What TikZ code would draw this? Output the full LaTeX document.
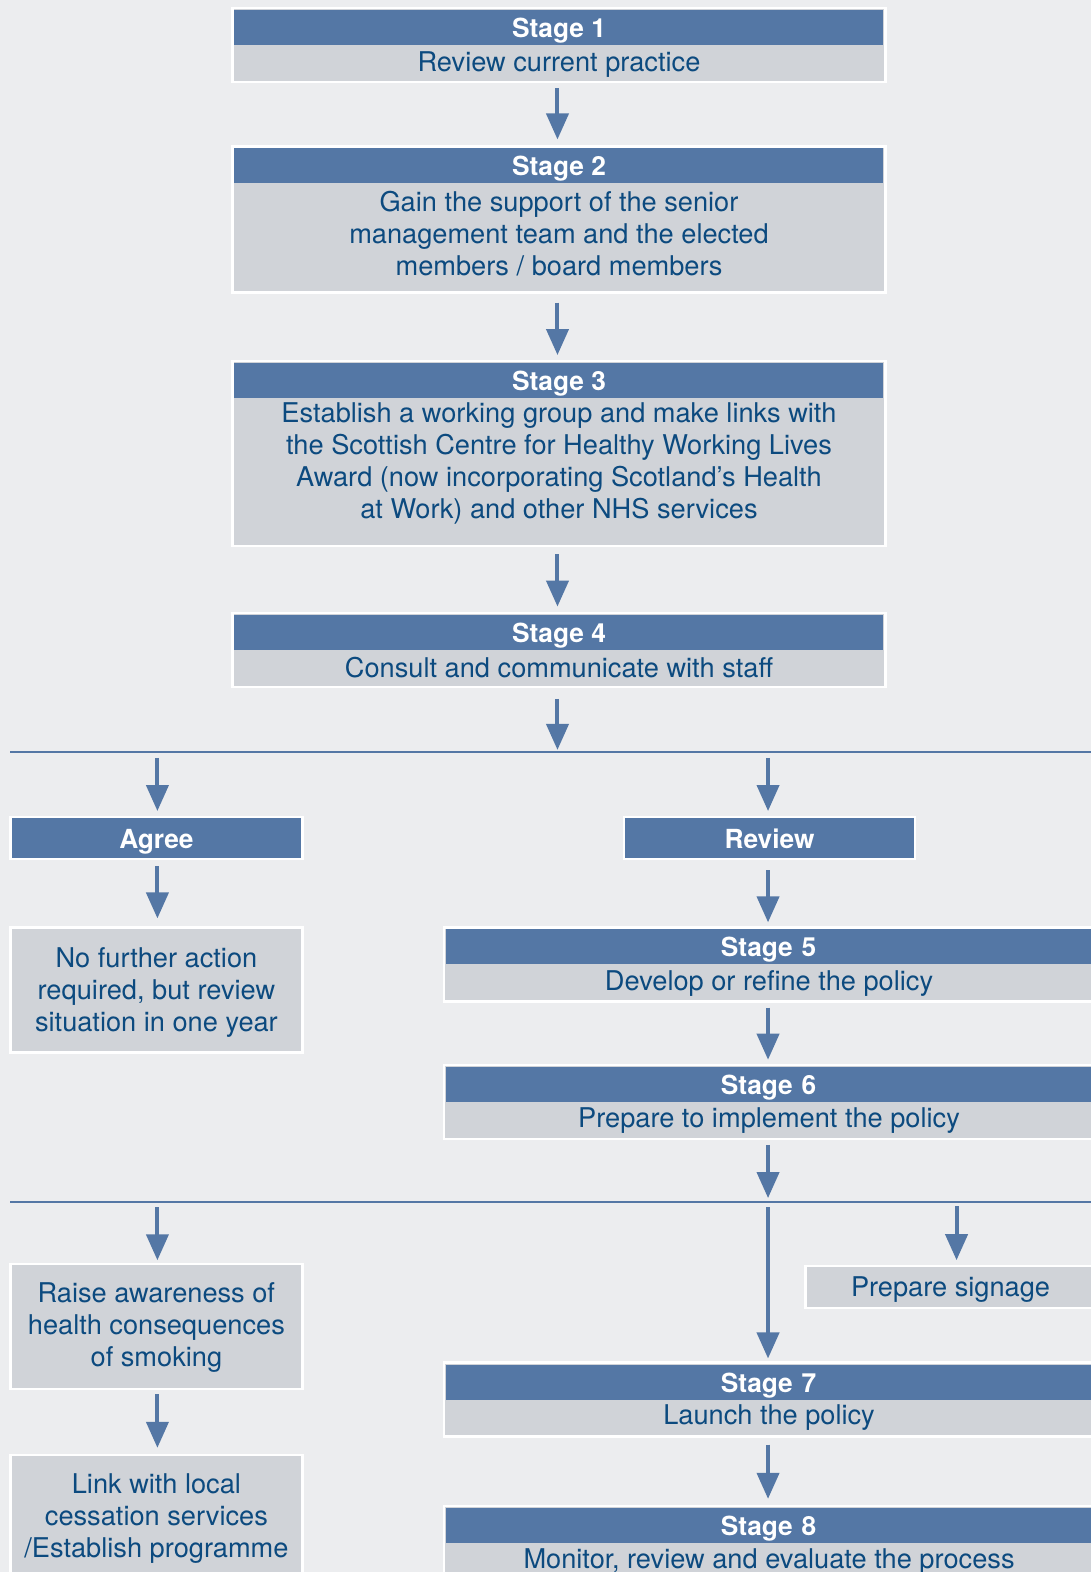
\documentclass[tikz,border=0pt]{standalone}
\usepackage{fontspec}
\setmainfont{TeX Gyre Heros}
\usetikzlibrary{arrows.meta}
\definecolor{bgc}{HTML}{ECEDEF}
\definecolor{hblue}{HTML}{5477A5}
\definecolor{bgray}{HTML}{D0D3D8}
\definecolor{tblue}{HTML}{0C4A7F}
\tikzset{
  outerbox/.style={fill=bgray,draw=white,line width=2.2pt,inner sep=0pt},
  hdr/.style={fill=hblue,inner sep=0pt,minimum height=35pt,text=white,
    font=\fontsize{26.3}{32}\selectfont\bfseries,text height=20pt,text depth=0pt},
  bluebox/.style={fill=hblue,draw=white,line width=2.2pt,inner sep=0pt,text=white,
    font=\fontsize{26.3}{32}\selectfont\bfseries,text height=20pt,text depth=0pt},
  txt/.style={text=tblue,align=center,inner sep=0pt,font=\fontsize{27.2}{32}\selectfont},
  arr/.style={draw=hblue,line width=4pt,-{Triangle[width=22pt,length=26pt]}},
  splitline/.style={draw=hblue,line width=2.5pt}
}
\begin{document}
\begin{tikzpicture}[x=1.0027pt,y=-1.0026pt]
\fill[bgc] (0,0) rectangle (1088,1568);
\useasboundingbox (0,0) rectangle (1088,1568);

% ---- main column
\node[outerbox,minimum width=653pt,minimum height=74pt] (s1) at (557.5,45) {};
\node[hdr,minimum width=649pt] (s1h) at (557.5,27.5) {Stage 1};
\node[txt] (s1t) at (557.5,64) {Review current practice};

\node[outerbox,minimum width=653pt,minimum height=146pt] (s2) at (557.5,219) {};
\node[hdr,minimum width=649pt] (s2h) at (557.5,165.5) {Stage 2};
\node[txt] (s2t) at (557.5,233.5) {Gain the support of the senior\\management team and the elected\\members / board members};

\node[outerbox,minimum width=653pt,minimum height=185pt] (s3) at (557.5,452.5) {};
\node[hdr,minimum width=649pt] (s3h) at (557.5,379.5) {Stage 3};
\node[txt] (s3t) at (557.5,462.5) {Establish a working group and make links with\\the Scottish Centre for Healthy Working Lives\\Award (now incorporating Scotland’s Health\\at Work) and other NHS services};

\node[outerbox,minimum width=653pt,minimum height=74pt] (s4) at (557.5,648) {};
\node[hdr,minimum width=649pt] (s4h) at (557.5,630.5) {Stage 4};
\node[txt] (s4t) at (557.5,665.5) {Consult and communicate with staff};

% ---- split lines
\coordinate (L1l) at (10,750);
\coordinate (L1r) at (1088,750);
\coordinate (L1m) at (556,750);
\coordinate (L1a) at (157,750);
\coordinate (L1b) at (766,750);
\draw[splitline] (L1l) -- (L1r);

\coordinate (L2l) at (10,1199);
\coordinate (L2r) at (1088,1199);
\coordinate (L2a) at (157,1199);
\coordinate (L2b) at (766,1199);
\coordinate (L2c) at (954,1199);
\draw[splitline] (L2l) -- (L2r);

% ---- left column
\node[bluebox,minimum width=292pt,minimum height=42pt] (agree) at (156,836) {Agree};
\node[outerbox,minimum width=292pt,minimum height=125pt] (nfa) at (156,987.5) {};
\node[txt] (nfat) at (156,989.5) {No further action\\required, but review\\situation in one year};
\node[outerbox,minimum width=292pt,minimum height=125pt] (raise) at (156,1323.5) {};
\node[txt] (raiset) at (156,1324.5) {Raise awareness of\\health consequences\\of smoking};
\node[outerbox,minimum width=292pt,minimum height=149pt] (link) at (156,1525.5) {};
\node[txt] (linkt) at (156,1515) {Link with local\\cessation services\\/Establish programme};

% ---- right column
\node[bluebox,minimum width=291pt,minimum height=42pt] (review) at (767.5,836) {Review};

\node[outerbox,minimum width=653pt,minimum height=74pt] (s5) at (768.5,962) {};
\node[hdr,minimum width=649pt,text width=649pt,align=center] (s5h) at (768.5,944.5) {\hspace*{-4pt}Stage 5};
\node[txt] (s5t) at (767,980.5) {Develop or refine the policy};

\node[outerbox,minimum width=653pt,minimum height=74pt] (s6) at (768.5,1099) {};
\node[hdr,minimum width=649pt,text width=649pt,align=center] (s6h) at (768.5,1081.5) {\hspace*{-4pt}Stage 6};
\node[txt] (s6t) at (767,1117.5) {Prepare to implement the policy};

\node[outerbox,minimum width=292pt,minimum height=42pt] (sign) at (949,1284) {};
\node[txt] (signt) at (948,1286) {Prepare signage};

\node[outerbox,minimum width=653pt,minimum height=74pt] (s7) at (768.5,1396) {};
\node[hdr,minimum width=649pt,text width=649pt,align=center] (s7h) at (768.5,1378.5) {\hspace*{-4pt}Stage 7};
\node[txt] (s7t) at (767,1413.5) {Launch the policy};

\node[outerbox,minimum width=653pt,minimum height=74pt] (s8) at (768.5,1539) {};
\node[hdr,minimum width=649pt,text width=649pt,align=center] (s8h) at (768.5,1521.5) {\hspace*{-4pt}Stage 8};
\node[txt] (s8t) at (767,1557.5) {Monitor, review and evaluate the process};

% ---- connectors
\draw[arr,shorten <=5pt,shorten >=6pt] (s1.south -| L1m) -- (s2.north -| L1m);
\draw[arr,shorten <=9pt,shorten >=5pt] (s2.south -| L1m) -- (s3.north -| L1m);
\draw[arr,shorten <=7pt,shorten >=5pt] (s3.south -| L1m) -- (s4.north -| L1m);
\draw[arr,shorten <=11pt,shorten >=2pt] (s4.south -| L1m) -- (L1m);

\draw[arr,shorten <=6pt,shorten >=5pt] (L1a) -- (agree.north -| L1a);
\draw[arr,shorten <=6pt,shorten >=5pt] (L1b) -- (review.north -| L1b);
\draw[arr,shorten <=6pt,shorten >=8pt] (agree.south -| L1a) -- (nfa.north -| L1a);
\draw[arr,shorten <=10pt,shorten >=4pt] (review.south -| L1b) -- (s5.north -| L1b);
\draw[arr,shorten <=5pt,shorten >=4pt] (s5.south -| L1b) -- (s6.north -| L1b);
\draw[arr,shorten <=5pt,shorten >=4pt] (s6.south -| L1b) -- (L2b);

\draw[arr,shorten <=5pt,shorten >=3pt] (L2a) -- (raise.north -| L2a);
\draw[arr,shorten <=5pt,shorten >=3pt] (L2b) -- (s7.north -| L2b);
\draw[arr,shorten <=4pt,shorten >=5pt] (L2c) -- (sign.north -| L2c);
\draw[arr,shorten <=4pt,shorten >=6pt] (raise.south -| L2a) -- (link.north -| L2a);
\draw[arr,shorten <=7pt,shorten >=6pt] (s7.south -| L2b) -- (s8.north -| L2b);
\end{tikzpicture}
\end{document}
